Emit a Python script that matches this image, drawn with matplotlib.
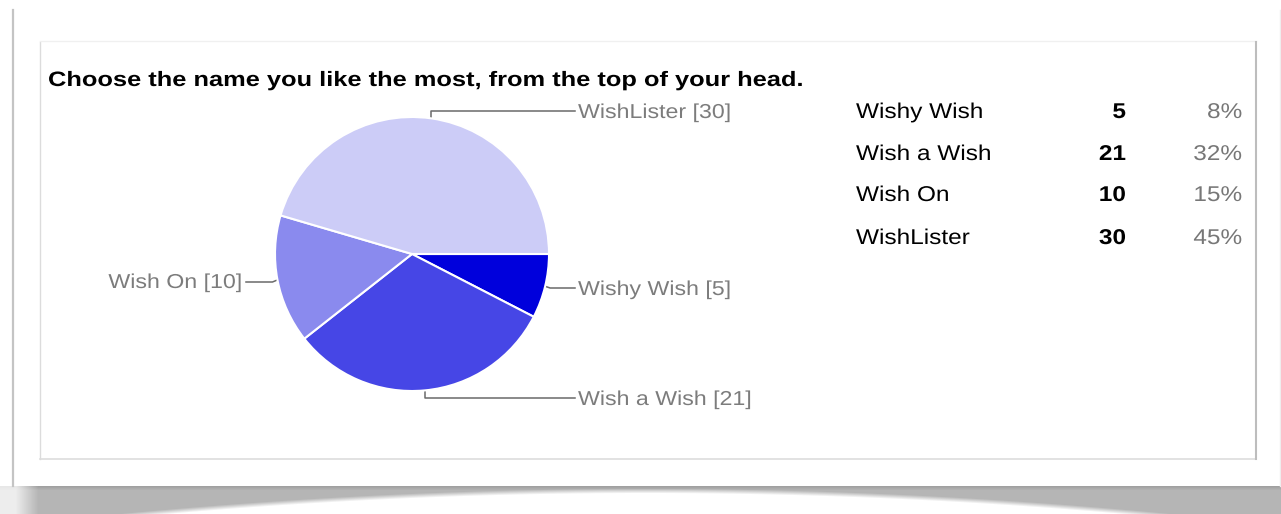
import numpy as np
import matplotlib.pyplot as plt
from matplotlib.patheffects import AbstractPathEffect
from matplotlib.transforms import Affine2D

# Survey answers, in the order the pie is drawn (clockwise from 3 o'clock)
names = ['Wishy Wish', 'Wish a Wish', 'Wish On', 'WishLister']
counts = [5, 21, 10, 30]
colors = ['#0000dc', '#4646e6', '#8a8aee', '#ccccf7']
title = 'Choose the name you like the most, from the top of your head.'

plt.rcParams['font.family'] = ['Liberation Sans', 'DejaVu Sans']


class Stretch(AbstractPathEffect):
    """Draw text glyphs widened by sx, keeping the aligned edge in place."""

    def __init__(self, sx, ha='left'):
        super().__init__()
        self.sx = sx
        self.ha = ha

    def draw_path(self, renderer, gc, tpath, affine, rgbFace=None):
        ext = tpath.get_extents()
        x0 = ext.x1 if self.ha == 'right' else 0
        t = Affine2D().translate(-x0, 0).scale(self.sx, 1).translate(x0, 0) + affine
        renderer.draw_path(gc, tpath, t, rgbFace)


def label(ax, x, y, s, sx=1.15, ha='left', **kw):
    return ax.text(x, y, s, ha=ha, va='baseline',
                   path_effects=[Stretch(sx, ha)], **kw)


W, H = 1281, 514
fig = plt.figure(figsize=(W / 100, H / 100), dpi=100)

# overlay axes in pixel units for the frame, lines and text
ov = fig.add_axes([0, 0, 1, 1])
ov.axis('off')

# outer page edge and the curled shadow under it
ov.plot([12.5, 12.5], [10, 486], color='#c4c4c4', lw=1.6)
ov.plot([1279.5, 1279.5], [10, 486], color='#eeeeee', lw=1.0)
xs = np.arange(0, W)
ys = np.arange(486, H)
xx, yy = np.meshgrid(xs, ys)
thick = np.clip(7 + 21 * ((xx - 645) / 480.0) ** 2, 0, 40)
dy = yy - 486
alpha = 0.5 * np.clip((thick - dy) / 5.0, 0, 1)
alpha += 0.14 * np.clip(1 - dy / 4.0, 0, 1)
alpha *= np.clip((xx - 8) / 30.0, 0.25, 1)
shadow = np.zeros(xx.shape + (4,))
shadow[..., :3] = 0.42
shadow[..., 3] = np.clip(alpha, 0, 1)
ov.imshow(shadow, extent=(0, W, H, 486), aspect='auto', interpolation='bilinear', zorder=1)
ov.set_xlim(0, W)
ov.set_ylim(H, 0)

# inner card
ov.plot([40, 40], [42, 459], color='#dcdcdc', lw=1.0)
ov.plot([40, 1256], [40.5, 40.5], color='#f0f0f0', lw=1.0)
ov.plot([40, 1256], [459, 459], color='#dddddd', lw=1.2)
ov.plot([1256, 1256], [42, 459], color='#bdbdbd', lw=1.5)

label(ov, 48, 86, title, sx=1.22, fontsize=15, fontweight='bold', color='black')

# pie
cx, cy, R = 412, 254, 137
pax = fig.add_axes([(cx - R) / W, (H - cy - R) / H, 2 * R / W, 2 * R / H])
wedges, _ = pax.pie(counts, colors=colors, startangle=0, counterclock=False,
                    wedgeprops=dict(edgecolor='white', linewidth=1.5))
pax.set_xlim(-1, 1)
pax.set_ylim(-1, 1)
pax.axis('off')

# leader lines: label row y and which side the label sits on
label_y = [288, 398, 282, 111]
label_side = ['right', 'right', 'left', 'right']
line_col = '#6a6a6a'
text_col = '#7c7c7c'
for w, name, n, ly, side in zip(wedges, names, counts, label_y, label_side):
    mid = np.radians((w.theta1 + w.theta2) / 2)
    ex = cx + R * np.cos(mid)
    ey = cy - R * np.sin(mid)
    lab = '%s [%d]' % (name, n)
    if side == 'right':
        if abs(ey - ly) > 4:
            pts = [(ex, ey), (ex, ly), (575, ly)]
        else:
            pts = [(ex, ey), (ex + 5, ly), (575, ly)]
        ov.plot(*zip(*pts), color=line_col, lw=1.1, zorder=0)
        label(ov, 578, ly + 7, lab, fontsize=14.5, color=text_col)
    else:
        pts = [(ex, ey), (ex - 5, ly), (246, ly)]
        ov.plot(*zip(*pts), color=line_col, lw=1.1, zorder=0)
        label(ov, 242, ly + 6, lab, ha='right', fontsize=14.5, color=text_col)

# summary table
total = sum(counts)
row_y = [118, 160, 201, 244]
for name, n, y in zip(names, counts, row_y):
    label(ov, 856, y, name, sx=1.14, fontsize=15.4, color='black')
    label(ov, 1126, y, str(n), sx=1.14, ha='right', fontsize=15.4, fontweight='bold', color='black')
    label(ov, 1242, y, '%d%%' % round(100.0 * n / total), sx=1.14, ha='right',
          fontsize=15.4, color='#777777')

fig.savefig('out.png', dpi=100)
